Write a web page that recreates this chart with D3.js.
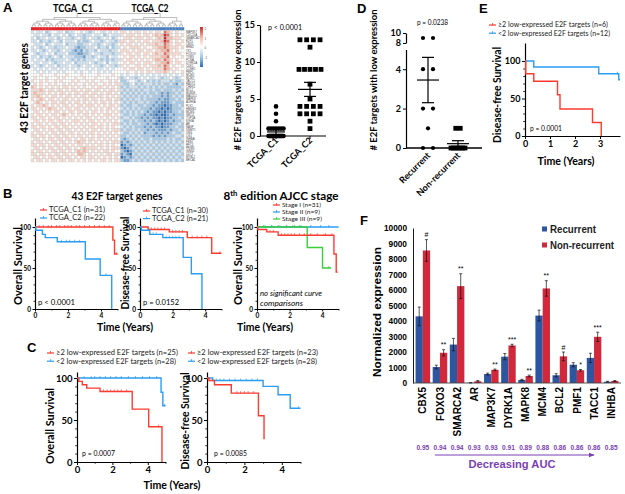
<!DOCTYPE html>
<html><head><meta charset="utf-8">
<script src="https://cdn.jsdelivr.net/npm/d3@7/dist/d3.min.js"></script>
<style>html,body{margin:0;padding:0;background:#fff;}svg{display:block;}</style>
</head><body>
<svg id="fig" width="625" height="494" xmlns="http://www.w3.org/2000/svg"></svg>
<script>
// ================= DATA =================
// Panel A heatmap
const geneNames = ["MAP3K7","CDC25A","SMARCA2","E2F1","CBX5","RRM2","TK1","FOXO3","TYMS","PCNA","DYRK1A","CDK1","CCNE1","PMF1",
 "MCM2","MCM7","TACC1","RAD51","CHEK1","BCL2","BUB1B","MAD2L1","MAPK8","AURKA","PLK1","HMGB2","MCM4","SMC4","TOP2A","KIF4A",
 "AR","NASP","DNMT1","UNG","LIG1","INHBA","FEN1","RFC4","PRIM1","GINS2","CDT1","MYBL2","BRCA1"];
const clusterNames = ["TCGA_C1","TCGA_C2"];
const clusterSizes = [31,22];
// z-score level codes 0..8 (4 = 0), one string per gene; C1 columns then C2 columns
const heatLevels = [-2.4,-1.8,-1.2,-0.6,0,0.6,1.2,1.8,2.4];
const heatC1Rows = [
"3433423443 3423344343 2344334343 4","4334332433 4342343323 3433423433 3","3423343342 3433234323 4332343423 4",
"3342332343 2433342322 3433234332 3","4333423433 3423332233 4332343323 4","3432343323 3343321223 3342332423 3",
"3343234332 3433212132 3324333233 4","4323343423 3342221122 3433233323 3","3342332343 2433322213 3234332433 4",
"3433423233 3343232323 3343232323 3","4334334323 3433423333 4323342433 4","3432343342 3334332343 3433234332 3",
"4343434334 3434343443 4343343434 4","4434343443 4344434344 3443434344 4","4445444454 4454444544 4445444454 4",
"4544454445 4544454454 4454445444 5","5445454454 5444545445 4544544545 4","4545445454 4545454454 5454454545 5",
"6545454545 4554545454 4545545454 5","5556545545 5454554545 5455454554 5","5655545454 5545455455 4554545545 4",
"5565454554 5455454554 5545545454 5","5456545545 4554545455 4554545545 5","4565454554 5545455454 5454554545 4",
"5455654545 4554545545 5545454554 5","5545456554 5455455454 5454545545 4","4554545455 4545545545 4554545454 5",
"5455454554 5654545455 4545455545 4","5545545455 4545454545 5454545454 5","4554545545 5454555454 5545454545 4",
"5455454554 5545454545 4554545455 5","5545545455 4554545454 5545545454 4","4554545545 5455454545 4554545455 5",
"5455454554 5545545454 5545454545 4","5545545455 4554545545 4545545454 5","4554545545 5455454554 5545454545 4",
"5455454554 5545456554 5454545455 5","5545545455 4554545545 4545545454 4","4554545545 5455454565 5554545455 5",
"5455454554 5545456565 4545455454 4","5545545455 4554546654 5454545545 5","4554545545 5455454554 5545454545 4",
"5455454554 5545545454 5454554545 5"];
const heatC2Rows = [
"5545455454 5455476545 44","5455545455 4565687545 45","4555455545 5456586655 54","5545545455 4555687545 45",
"5455454545 5565576545 54","4545555454 4556676555 45","5554545545 5455667545 44","5455455455 4565576555 54",
"4545545454 5555667454 45","5455454545 4566576545 44","4545545455 5455667545 54","5454455454 5556576454 45",
"4545545545 4555576545 44","4454454545 5455565454 45","3434434343 4343434343 43","2343323434 3343233432 34",
"2234432342 3232333232 23","3223423233 3232322321 32","2323332323 2323232222 23","3232323233 2322322232 32",
"2323232323 2232121223 23","3232323232 3222121232 32","2323233232 2221211223 23","3232323323 2212111232 22",
"2322332232 2121101122 32","3232323222 1211010122 23","2323232321 2110101122 32","3223232212 1101001212 22",
"2332322121 2110101122 32","3223232212 1210101212 23","2323223221 2101011122 32","3232322212 1211011223 22",
"2322323221 2121112122 32","3223232312 2212121232 23","2232323222 2121212223 32","2123232322 3222223232 23",
"1212323232 3232323232 32","0121232323 2323232323 23","1012323232 3232323232 32","2101232323 2323232323 23",
"1210323232 3232323232 32","0121232323 2323232323 23","2112323232 3232323232 32"];
const heatLegendLabels = ["2","1","0","-1"];

// Panel A scatter
const scatterTicks = [0,5,10,15];
const scatterC1 = [4,3,2,1,1,1,1,1,1,1,0,0,0,0,0,0,0,0,0,0,0,0,0,0,0,0,0,0,0,0,0];
const scatterC2 = [13,13,13,13,12,9,9,9,9,9,7,5,4,4,4,4,3,3,3,3,2,1];
const scatterMeans = [0.55,6.3];
const scatterSems = [0.35,0.95];

// Panel D scatter
const dGroups = ["Recurrent","Non-recurrent"];
const dRecurrent = [9,9,4,4,2,2,1,0,0];
const dNonRecurrent = [1,1,0,0,0,0,0,0,0];
const dMeans = [3.45,0.22];
const dSems = [1.15,0.15];
const dTicksLow = [0,2,4];
const dTicksHigh = [8,10];

// Kaplan-Meier curves: [time (years), survival %]
const survTicks = [0,50,100];
const bOsC1 = [[0,100],[4.72,84],[4.82,67]];
const bOsC2 = [[0,100],[0.05,96],[0.45,91],[0.62,87],[1.35,82],[3.05,61],[3.95,41],[4.65,0]];
const bDfsC1 = [[0,100],[0.5,97],[1.8,94],[2.9,87],[4.4,68]];
const bDfsC2 = [[0,100],[0.08,96],[0.6,91],[1.4,87],[2.65,63],[3.15,43],[3.8,0]];
const ajccI = [[0,100],[0.05,97],[0.6,94],[1.3,90],[4.72,67],[4.86,45]];
const ajccII = [[0,100]];
const ajccIII = [[0,100],[3.08,75],[4.02,50]];
const cOsHigh = [[0,100],[0.1,96],[0.3,92],[0.55,88],[1.3,84],[3.12,63],[4.05,42],[4.8,0]];
const cOsLow = [[0,100],[4.75,83],[4.85,67]];
const cDfsHigh = [[0,100],[0.1,97],[0.4,92],[1.3,82],[2.75,55],[3.05,27]];
const cDfsLow = [[0,100],[0.3,97],[3.0,90],[3.8,80],[4.45,64]];
const eHigh = [[0,100],[0.03,83],[0.35,73],[1.3,55],[1.4,36],[2.7,18],[3.05,0]];
const eLow = [[0,100],[0.35,92],[2.95,83],[3.75,75]];
// censor times
const bOsC1c = [0.25,0.5,0.8,1.0,1.3,1.5,1.8,2.0,2.2,2.5,2.7,3.0,3.3,3.6,3.9,4.2,4.5,4.95];
const bOsC2c = [1.6,1.9,2.1,2.4,2.7,4.3];
const bDfsC1c = [0.7,0.9,1.1,1.3,1.5,2.0,2.2,2.4,2.6,3.2,3.5,3.8,4.1,4.9];
const bDfsC2c = [0.8,1.0,1.6,1.8,2.0,2.2,2.4];
const ajccIc = [0.8,1.0,1.5,1.7,1.9,2.1,2.3,2.6,2.9,3.3,3.7,4.2,4.6];
const ajccIIc = [0.4,0.9,1.3,1.8,2.3,2.7,3.3,3.9,4.4];
const ajccIIIc = [0.5,0.9,1.4,1.8,2.2,2.6,4.4];
const cOsHighc = [1.5,1.7,1.9,2.1,2.3,2.5,2.8,4.6];
const cOsLowc = [0.4,0.8,1.0,1.3,1.6,1.9,2.2,2.5,2.9,3.3,3.7,4.1,4.5,4.95];
const cDfsHighc = [1.6,1.8,2.0,2.2,2.5];
const cDfsLowc = [0.5,0.7,0.9,1.2,1.5,1.8,2.1,2.4,2.7,4.9];
const eHighc = [];
const eLowc = [3.7];

// Panel F
const fGenes = ["CBX5","FOXO3","SMARCA2","AR","MAP3K7","DYRK1A","MAPK8","MCM4","BCL2","PMF1","TACC1","INHBA"];
const fSeries = ["Recurrent","Non-recurrent"];
const fRecurrent = [4300,1030,2480,15,580,1700,200,4350,500,1180,1620,80];
const fRecurrentErr = [600,120,400,10,60,200,40,350,100,130,300,30];
const fNonRecurrent = [8550,1950,6250,110,850,2420,450,6100,1720,820,2980,130];
const fNonRecurrentErr = [700,200,800,50,50,80,60,500,280,50,300,30];
const fSignif = ["#","**","**","","**","***","**","**","#","*","***",""];
const fAUC = ["0.95","0.94","0.94","0.93","0.93","0.91","0.89","0.88","0.86","0.86","0.86","0.85"];
const fTicks = [0,1000,2000,3000,4000,5000,6000,7000,8000,9000,10000];

// ================= DRAWING =================
const LATO = "Lato, 'Open Sans', sans-serif";
const ARIAL = "'Liberation Sans', Arial, sans-serif";
const RED = "#FF3B2F", BLUE = "#2A9DF4", GREEN = "#3ACD3A";
const svg = d3.select('#fig');
svg.append('rect').attr('width',625).attr('height',494).attr('fill','#fff');
const fmtInt = d3.format('d');

function T(p,x,y,s,o={}){
  const t=p.append('text').attr('x',x).attr('y',y).text(s)
    .attr('font-family',o.ff||LATO).attr('font-size',o.fs||8)
    .attr('font-weight',o.fw||'normal').attr('text-anchor',o.ta||'start')
    .attr('fill',o.fill||'#000');
  if(o.fst) t.attr('font-style',o.fst);
  if(o.rot!=null) t.attr('transform',`rotate(${o.rot},${x},${y})`);
  if(o.len) t.attr('textLength',o.len).attr('lengthAdjust','spacingAndGlyphs');
  return t;
}
function styleAx(sel,fs,o={}){
  sel.select('.domain').attr('stroke','#000').attr('stroke-width',o.sw||1.2);
  sel.selectAll('.tick line').attr('stroke','#000').attr('stroke-width',o.tw||1);
  sel.selectAll('.tick text').attr('font-family',o.ff||LATO).attr('font-size',fs)
    .attr('font-weight',o.fw||'bold').attr('fill','#000');
}

// Panel letters
[['A',3,12],['B',3,198],['C',27,352],['D',357,13],['E',479,13],['F',360,225]].forEach(d=>
  T(svg,d[1],d[2],d[0],{fs:13,fw:'bold',ff:ARIAL}));

// ---------- A: heatmap ----------
(function(){
  const g=svg.append('g');
  const nCol=d3.sum(clusterSizes);
  const hx=d3.scaleBand().domain(d3.range(nCol)).range([31,184]);
  const hy=d3.scaleBand().domain(geneNames).range([30.7,162]);
  const col=d3.scaleLinear().domain([-2.4,-1.2,0,1.2,2.4]).range(['#2f6db3','#a3c8e6','#ffffff','#f5b7a3','#c92a2a']);
  const norm=(s,n)=>s.replace(/ /g,'').padEnd(n,'4').slice(0,n);
  geneNames.forEach((gn,i)=>{
    const codes=norm(heatC1Rows[i],clusterSizes[0])+norm(heatC2Rows[i],clusterSizes[1]);
    for(let j=0;j<nCol;j++){
      g.append('rect').attr('x',hx(j)).attr('y',hy(gn)).attr('width',hx.bandwidth()).attr('height',hy.bandwidth())
        .attr('fill',col(heatLevels[+codes[j]])).attr('stroke','#c4c4c4').attr('stroke-width',0.3);
    }
    T(g,186,hy(gn)+hy.bandwidth()/2+1,gn,{fs:2.8,fill:'#444',ff:ARIAL});
  });
  for(let j=0;j<nCol;j++){
    g.append('rect').attr('x',hx(j)).attr('y',27.2).attr('width',hx.bandwidth()+0.2).attr('height',3)
      .attr('fill',j<clusterSizes[0]?'#E3262B':'#4F81BD');
  }
  function build(xs){
    let nodes=xs.map(x=>({x,h:0}));
    while(nodes.length>1){
      const nx=[];
      for(let i=0;i<nodes.length;i+=2){
        if(i+1<nodes.length){const a=nodes[i],b=nodes[i+1];nx.push({x:(a.x+b.x)/2,h:Math.max(a.h,b.h)+1,a,b});}
        else nx.push(nodes[i]);
      }
      nodes=nx;
    }
    return nodes[0];
  }
  const dg=g.append('g').attr('fill','none').attr('stroke','#8a8a8a').attr('stroke-width',0.55);
  function draw(node,yOf){
    if(!node.a) return;
    const yn=yOf(node.h);
    [node.a,node.b].forEach(ch=>dg.append('path').attr('d',`M${ch.x},${yOf(ch.h)}V${yn}`));
    dg.append('path').attr('d',`M${node.a.x},${yn}H${node.b.x}`);
    draw(node.a,yOf);draw(node.b,yOf);
  }
  const c = hx.bandwidth()/2;
  const t1=build(d3.range(clusterSizes[0]).map(j=>hx(j)+c));
  const t2=build(d3.range(clusterSizes[0],nCol).map(j=>hx(j)+c));
  const y1=d3.scaleLinear().domain([0,t1.h]).range([26.8,17.5]);
  const y2=d3.scaleLinear().domain([0,t2.h]).range([26.8,17.5]);
  draw(t1,y1);draw(t2,y2);
  dg.append('path').attr('d',`M${t1.x},17.5V13.5H${t2.x}V17.5`);
  T(g,73,12,clusterNames[0],{fs:12,fw:'bold',ta:'middle',len:40});
  T(g,150,12,clusterNames[1],{fs:12,fw:'bold',ta:'middle',len:37});
  T(g,28,88,'43 E2F target genes',{fs:11.5,fw:'bold',ta:'middle',rot:-90,len:90});
  const grad=svg.append('defs').append('linearGradient').attr('id','hg').attr('x1',0).attr('x2',0).attr('y1',0).attr('y2',1);
  [[0,'#c92a2a'],[0.25,'#f5b7a3'],[0.5,'#ffffff'],[0.75,'#a3c8e6'],[1,'#2f6db3']].forEach(s=>
    grad.append('stop').attr('offset',s[0]).attr('stop-color',s[1]));
  g.append('rect').attr('x',200).attr('y',27).attr('width',3).attr('height',40).attr('fill','url(#hg)');
  heatLegendLabels.forEach((l,i)=>T(g,204.5,30+i*9.5,l,{fs:2.8,fill:'#444',ff:ARIAL}));
})();

// ---------- A: scatter ----------
function swarm(vals,cx,maxSpan,step){
  const out=[];
  d3.groups(vals,v=>v).forEach(([v,arr])=>{
    const n=arr.length, sp=n>1?Math.min(step,maxSpan/(n-1)):0;
    arr.forEach((_,i)=>out.push({v,x:cx+(i-(n-1)/2)*sp}));
  });
  return out;
}
function meanSem(g,cx,yM,yLo,yHi,w,cw){
  const L=(x1,y1,x2,y2)=>g.append('line').attr('x1',x1).attr('y1',y1).attr('x2',x2).attr('y2',y2).attr('stroke','#000').attr('stroke-width',1.2);
  L(cx-w/2,yM,cx+w/2,yM); L(cx,yLo,cx,yHi); L(cx-cw/2,yLo,cx+cw/2,yLo); L(cx-cw/2,yHi,cx+cw/2,yHi);
}
(function(){
  const g=svg.append('g');
  const ax=d3.scalePoint().domain(clusterNames).range([276,310]);
  const ay=d3.scaleLinear().domain([0,15]).range([136,25]);
  g.append('g').attr('transform','translate(260,0)')
    .call(d3.axisLeft(ay).tickValues(scatterTicks).tickSize(3).tickSizeOuter(0).tickPadding(2)).call(s=>styleAx(s,9));
  g.append('line').attr('x1',260).attr('x2',326).attr('y1',136).attr('y2',136).attr('stroke','#000').attr('stroke-width',1.2);
  clusterNames.forEach(cn=>{
    g.append('line').attr('x1',ax(cn)).attr('x2',ax(cn)).attr('y1',136).attr('y2',139).attr('stroke','#000');
    T(g,ax(cn)+3,141,cn,{fs:9,fw:'bold',ta:'end',rot:-45});
  });
  swarm(scatterC1,ax(clusterNames[0]),15,4.6).forEach(p=>
    g.append('circle').attr('cx',p.x).attr('cy',ay(p.v)).attr('r',2.3).attr('fill','#000'));
  swarm(scatterC2,ax(clusterNames[1]),22,6.7).forEach(p=>
    g.append('rect').attr('x',p.x-2.4).attr('y',ay(p.v)-2.4).attr('width',4.8).attr('height',4.8).attr('fill','#000'));
  clusterNames.forEach((cn,i)=>meanSem(g,ax(cn),ay(scatterMeans[i]),ay(Math.max(0,scatterMeans[i]-scatterSems[i])),ay(scatterMeans[i]+scatterSems[i]),i?24:18,12));
  T(g,268,30,'p < 0.0001',{fs:7.5,len:34});
  T(g,241,80,'# E2F targets with low expression',{fs:9.6,fw:'bold',ta:'middle',rot:-90,len:141});
})();

// ---------- D: scatter with broken axis ----------
(function(){
  const g=svg.append('g');
  const dx=d3.scalePoint().domain(dGroups).range([428,458]);
  const yLow=d3.scaleLinear().domain([0,5]).range([148,49.5]);
  const yHigh=d3.scaleLinear().domain([8,10]).range([43,33]);
  const yv=v=>v>=8?yHigh(v):yLow(v);
  g.append('g').attr('transform','translate(406,0)')
    .call(d3.axisLeft(yLow).tickValues(dTicksLow).tickFormat(fmtInt).tickSize(3).tickSizeOuter(0).tickPadding(2)).call(s=>styleAx(s,9));
  g.append('g').attr('transform','translate(406,0)')
    .call(d3.axisLeft(yHigh).tickValues(dTicksHigh).tickFormat(fmtInt).tickSize(3).tickSizeOuter(0).tickPadding(2)).call(s=>styleAx(s,9));
  g.append('line').attr('x1',406).attr('x2',482).attr('y1',148).attr('y2',148).attr('stroke','#000').attr('stroke-width',1.5);
  swarm(dRecurrent,dx(dGroups[0]),10,10).forEach(p=>
    g.append('circle').attr('cx',p.x).attr('cy',yv(p.v)).attr('r',2.1).attr('fill','#000'));
  swarm(dNonRecurrent,dx(dGroups[1]),14,4.5).forEach(p=>
    g.append('rect').attr('x',p.x-2.4).attr('y',yv(p.v)-2.4).attr('width',4.8).attr('height',4.8).attr('fill','#000'));
  dGroups.forEach((gn,i)=>meanSem(g,dx(gn),yLow(dMeans[i]),yLow(Math.max(0,dMeans[i]-dSems[i])),yLow(dMeans[i]+dSems[i]),22,12));
  dGroups.forEach(gn=>T(g,dx(gn)+3,156,gn,{fs:9,fw:'bold',ta:'end',rot:-45}));
  T(g,417,25,'p = 0.0238',{fs:7.5,len:31});
  T(g,377,80,'# E2F targets with low expression',{fs:9.6,fw:'bold',ta:'middle',rot:-90,len:141});
})();

// ---------- Kaplan-Meier helper ----------
function survAt(steps,t){let s=steps[0][1];steps.forEach(p=>{if(p[0]<=t)s=p[1];});return s;}
function kmPlot(c){
  const g=svg.append('g');
  const topVal=100*(c.y0-c.yTop)/(c.y0-c.y100);
  const x=d3.scaleLinear().domain([0,c.xMax]).range([c.x0,c.x1]);
  const y=d3.scaleLinear().domain([0,topVal]).range([c.y0,c.yTop]);
  g.append('g').attr('transform',`translate(${c.x0},0)`)
    .call(d3.axisLeft(y).tickValues(d3.range(10,100,10).filter(v=>v%50)).tickSize(c.minor).tickFormat('').tickSizeOuter(0))
    .call(s=>{s.select('.domain').remove();s.selectAll('line').attr('stroke','#000').attr('stroke-width',0.8);});
  g.append('g').attr('transform',`translate(${c.x0},0)`)
    .call(d3.axisLeft(y).tickValues(survTicks).tickSize(c.major).tickSizeOuter(0).tickPadding(1.5)).call(s=>styleAx(s,c.fs));
  g.append('g').attr('transform',`translate(0,${c.y0})`)
    .call(d3.axisBottom(x).tickValues(c.xMinorT).tickSize(c.minor).tickFormat('').tickSizeOuter(0))
    .call(s=>{s.select('.domain').remove();s.selectAll('line').attr('stroke','#000').attr('stroke-width',0.8);});
  g.append('g').attr('transform',`translate(0,${c.y0})`)
    .call(d3.axisBottom(x).tickValues(c.xTicks).tickSize(c.major).tickSizeOuter(0).tickPadding(1.5).tickFormat(fmtInt)).call(s=>styleAx(s,c.fs));
  const line=d3.line().x(d=>x(d[0])).y(d=>y(d[1])).curve(d3.curveStepAfter);
  c.curves.forEach(cv=>{
    const pts=cv.steps.concat([[cv.end,cv.steps[cv.steps.length-1][1]]]);
    g.append('path').attr('d',line(pts)).attr('fill','none').attr('stroke',cv.color).attr('stroke-width',1.4);
    cv.censor.forEach(t=>{const s=survAt(cv.steps,t);
      g.append('line').attr('x1',x(t)).attr('x2',x(t)).attr('y1',y(s)-2).attr('y2',y(s)+0.6).attr('stroke',cv.color).attr('stroke-width',0.7);});
  });
  return g;
}
function kmLegend(items,x,y0,dy,fs){
  items.forEach((it,i)=>{
    const yy=y0+i*dy;
    svg.append('line').attr('x1',x).attr('x2',x+7).attr('y1',yy).attr('y2',yy).attr('stroke',it.color).attr('stroke-width',1.2);
    svg.append('line').attr('x1',x+3.5).attr('x2',x+3.5).attr('y1',yy-2).attr('y2',yy+0.5).attr('stroke',it.color).attr('stroke-width',0.8);
    T(svg,x+9,yy+fs*0.34,it.label,{fs,fill:'#222',len:it.len});
  });
}

// ---------- B ----------
T(svg,117,200,'43 E2F target genes',{fs:11.5,fw:'bold',ta:'middle',len:91});
(function(){
  const t=svg.append('text').attr('x',281).attr('y',199.5).attr('text-anchor','middle').attr('font-family',LATO)
    .attr('font-size',11.5).attr('font-weight','bold').attr('textLength',115).attr('lengthAdjust','spacingAndGlyphs');
  t.append('tspan').text('8');
  t.append('tspan').attr('dy',-4).attr('font-size',7.5).text('th');
  t.append('tspan').attr('dy',4).text(' edition AJCC stage');
})();
const bBase={y0:309,y100:227,yTop:218,xMax:5,xTicks:[0,2,4],xMinorT:[1,3,5],major:2.5,minor:1.5,fs:6.5};
kmPlot(Object.assign({},bBase,{x0:35,x1:117.5,curves:[
  {steps:bOsC1,end:5.0,color:RED,censor:bOsC1c},{steps:bOsC2,end:4.65,color:BLUE,censor:bOsC2c}]}));
kmPlot(Object.assign({},bBase,{x0:140,x1:221.5,curves:[
  {steps:bDfsC1,end:5.0,color:RED,censor:bDfsC1c},{steps:bDfsC2,end:3.8,color:BLUE,censor:bDfsC2c}]}));
kmPlot(Object.assign({},bBase,{x0:257,x1:338.5,curves:[
  {steps:ajccII,end:5.0,color:BLUE,censor:ajccIIc},{steps:ajccIII,end:4.55,color:GREEN,censor:ajccIIIc},
  {steps:ajccI,end:4.95,color:RED,censor:ajccIc}]}));
kmLegend([{label:'TCGA_C1 (n=31)',color:RED,len:56},{label:'TCGA_C2 (n=22)',color:BLUE,len:56}],40,210,8,7.2);
kmLegend([{label:'TCGA_C1 (n=30)',color:RED,len:56},{label:'TCGA_C2 (n=21)',color:BLUE,len:56}],143,211,7.6,7.0);
kmLegend([{label:'Stage I (n=31)',color:RED,len:39},{label:'Stage II (n=9)',color:BLUE,len:38},{label:'Stage III (n=9)',color:GREEN,len:40}],273,205,7,6.5);
T(svg,22,266,'Overall Survival',{fs:11,fw:'bold',ta:'middle',rot:-90,len:78});
T(svg,129,263,'Disease-free Survival',{fs:11,fw:'bold',ta:'middle',rot:-90,len:93});
T(svg,242,266,'Overall Survival',{fs:11,fw:'bold',ta:'middle',rot:-90,len:78});
T(svg,125,331,'Time (Years)',{fs:11,fw:'bold',ta:'middle',len:56});
T(svg,265,331,'Time (Years)',{fs:11,fw:'bold',ta:'middle',len:56});
T(svg,38,305,'p < 0.0001',{fs:7.5,len:37});
T(svg,143,305,'p = 0.0152',{fs:7.5,len:36});
T(svg,260,296,'no significant curve',{fs:7.5,fst:'italic',len:62});
T(svg,260,306,'comparisons',{fs:7.5,fst:'italic',len:43});

// ---------- C ----------
const cBase={y0:462,y100:378,yTop:372,xMax:5,xTicks:[0,2,4],xMinorT:[1,3,5],major:3,minor:1.8,fs:9.5};
kmPlot(Object.assign({},cBase,{x0:77,x1:165.5,curves:[
  {steps:cOsLow,end:5.0,color:BLUE,censor:cOsLowc},{steps:cOsHigh,end:4.8,color:RED,censor:cOsHighc}]}));
kmPlot(Object.assign({},cBase,{x0:207,x1:300.5,curves:[
  {steps:cDfsLow,end:5.0,color:BLUE,censor:cDfsLowc},{steps:cDfsHigh,end:3.05,color:RED,censor:cDfsHighc}]}));
kmLegend([{label:'\u22652 low-expressed E2F targets (n=25)',color:RED,len:122},{label:'<2 low-expressed E2F targets (n=28)',color:BLUE,len:120}],47,353,8.2,7.1);
kmLegend([{label:'\u22652 low-expressed E2F targets (n=23)',color:RED,len:121},{label:'<2 low-expressed E2F targets (n=28)',color:BLUE,len:120}],188,353,8.2,7.1);
T(svg,54,426,'Overall Survival',{fs:11,fw:'bold',ta:'middle',rot:-90,len:76});
T(svg,189,421,'Disease-free Survival',{fs:11,fw:'bold',ta:'middle',rot:-90,len:97});
T(svg,172,489,'Time (Years)',{fs:11,fw:'bold',ta:'middle',len:57});
T(svg,82,456,'p = 0.0007',{fs:7.5,len:33});
T(svg,214,456,'p = 0.0085',{fs:7.5,len:33});

// ---------- E ----------
kmPlot({x0:525,x1:620,y0:136,y100:61,yTop:43,xMax:3.8,xTicks:[0,1,2,3],xMinorT:[],major:3,minor:1.8,fs:9,curves:[
  {steps:eLow,end:3.8,color:BLUE,censor:eLowc},{steps:eHigh,end:3.05,color:RED,censor:eHighc}]});
kmLegend([{label:'\u22652 low-expressed E2F targets (n=6)',color:RED,len:110},{label:'<2 low-expressed E2F targets (n=12)',color:BLUE,len:112}],489,25,8.2,7.0);
T(svg,501,95,'Disease-free Survival',{fs:11,fw:'bold',ta:'middle',rot:-90,len:96});
T(svg,566,165,'Time (Years)',{fs:11,fw:'bold',ta:'middle',len:57});
T(svg,530,131,'p = 0.0001',{fs:7.5,len:32});

// ---------- F: grouped bars ----------
(function(){
  const g=svg.append('g');
  const fColors=['#2D55A0','#D2283C'];
  const x0=d3.scaleBand().domain(fGenes).range([413,621]).padding(0.15);
  const x1=d3.scaleBand().domain(fSeries).range([0,x0.bandwidth()]);
  const y=d3.scaleLinear().domain([0,10000]).range([383,228]);
  g.append('g').attr('transform','translate(413,0)')
    .call(d3.axisLeft(y).tickValues(fTicks).tickFormat(fmtInt).tickSize(0).tickSizeOuter(0).tickPadding(6))
    .call(s=>styleAx(s,8.3,{ff:ARIAL,sw:0.9}));
  const vals=[fRecurrent,fNonRecurrent], errs=[fRecurrentErr,fNonRecurrentErr];
  fGenes.forEach((gn,i)=>{
    fSeries.forEach((sn,k)=>{
      const v=vals[k][i], e=errs[k][i], bx=x0(gn)+x1(sn), cx=bx+x1.bandwidth()/2;
      g.append('rect').attr('x',bx).attr('y',y(v)).attr('width',x1.bandwidth()).attr('height',y(0)-y(v)).attr('fill',fColors[k]);
      const lo=y(Math.max(0,v-e)), hi=y(v+e);
      g.append('line').attr('x1',cx).attr('x2',cx).attr('y1',lo).attr('y2',hi).attr('stroke','#111').attr('stroke-width',0.7);
      g.append('line').attr('x1',cx-1.5).attr('x2',cx+1.5).attr('y1',hi).attr('y2',hi).attr('stroke','#111').attr('stroke-width',0.7);
      g.append('line').attr('x1',cx-1.5).attr('x2',cx+1.5).attr('y1',lo).attr('y2',lo).attr('stroke','#111').attr('stroke-width',0.7);
      if(k===1 && fSignif[i]) T(g,cx,hi-2.5,fSignif[i],{fs:7,ta:'middle',ff:ARIAL});
    });
    const c=x0(gn)+x0.bandwidth()/2;
    T(g,c+3.6,387,gn,{fs:10,fw:'bold',ta:'end',rot:-90,ff:ARIAL});
    T(g,c,449.5,fAUC[i],{fs:6.6,fw:'bold',ta:'middle',ff:ARIAL,fill:'#7B3FB5'});
  });
  g.append('line').attr('x1',413).attr('x2',621).attr('y1',383).attr('y2',383).attr('stroke','#444').attr('stroke-width',0.9);
  T(g,381,312,'Normalized expression',{fs:11.5,fw:'bold',ta:'middle',rot:-90,ff:ARIAL,len:130});
  fSeries.forEach((sn,k)=>{
    g.append('rect').attr('x',542).attr('y',226.5+k*16).attr('width',5).attr('height',5).attr('fill',fColors[k]);
    T(g,550,233+k*16,sn,{fs:10.5,fw:'bold',ff:ARIAL,fill:'#222',len:k?64:46});
  });
  const defs=svg.append('defs');
  defs.append('marker').attr('id','arr').attr('viewBox','0 0 10 10').attr('refX',9).attr('refY',5)
    .attr('markerWidth',6).attr('markerHeight',6).attr('orient','auto')
    .append('path').attr('d','M0,1L10,5L0,9Z').attr('fill','#7B3FB5');
  g.append('line').attr('x1',435).attr('x2',594).attr('y1',455).attr('y2',455).attr('stroke','#7B3FB5').attr('stroke-width',1).attr('marker-end','url(#arr)');
  T(g,512,468,'Decreasing AUC',{fs:11,fw:'bold',ta:'middle',ff:ARIAL,fill:'#7B3FB5',len:87});
})();
</script></body></html>
